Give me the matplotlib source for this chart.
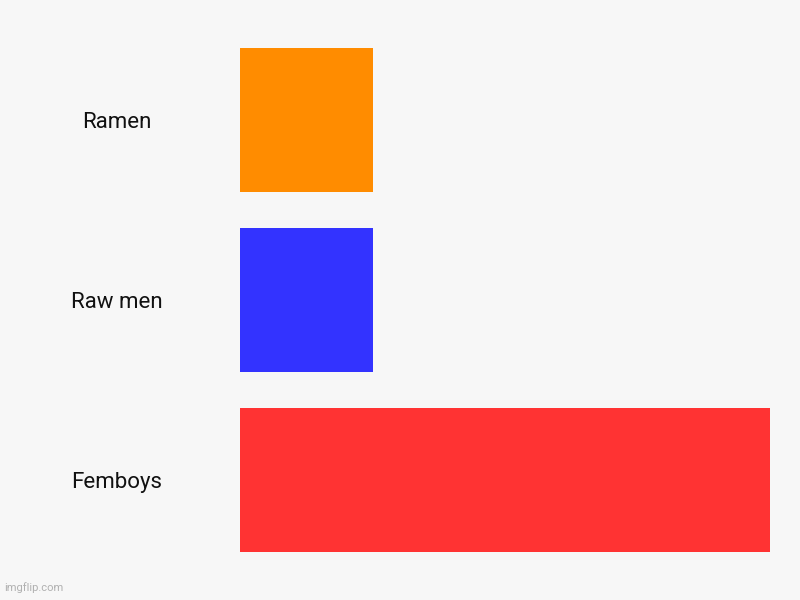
import matplotlib.pyplot as plt

categories = ['Ramen', 'Raw men', 'Femboys']
values = [1, 1, 4]
colors = ['#ff8c00', '#3333ff', '#ff3333']

plt.rcParams['font.family'] = ['Roboto', 'DejaVu Sans']

fig = plt.figure(figsize=(8, 6), dpi=100, facecolor='#f7f7f7')
ax = fig.add_axes([0.3, 0.05, 0.6625, 0.9])
ax.set_facecolor('#f7f7f7')

ypos = list(range(len(categories)))
ax.barh(ypos, values, height=0.8, color=colors)
ax.set_xlim(0, max(values))
ax.set_ylim(len(categories) - 0.5, -0.5)

ax.set_yticks(ypos)
ax.set_yticklabels(categories, fontsize=16, color='#111111', ha='center')
ax.tick_params(axis='y', length=0, pad=88.5)
ax.set_xticks([])
for s in ax.spines.values():
    s.set_visible(False)

fig.text(0.005, 0.015, 'imgflip.com', fontsize=8, color='#b0b0b0')

fig.savefig('out.png', dpi=100, facecolor=fig.get_facecolor())
